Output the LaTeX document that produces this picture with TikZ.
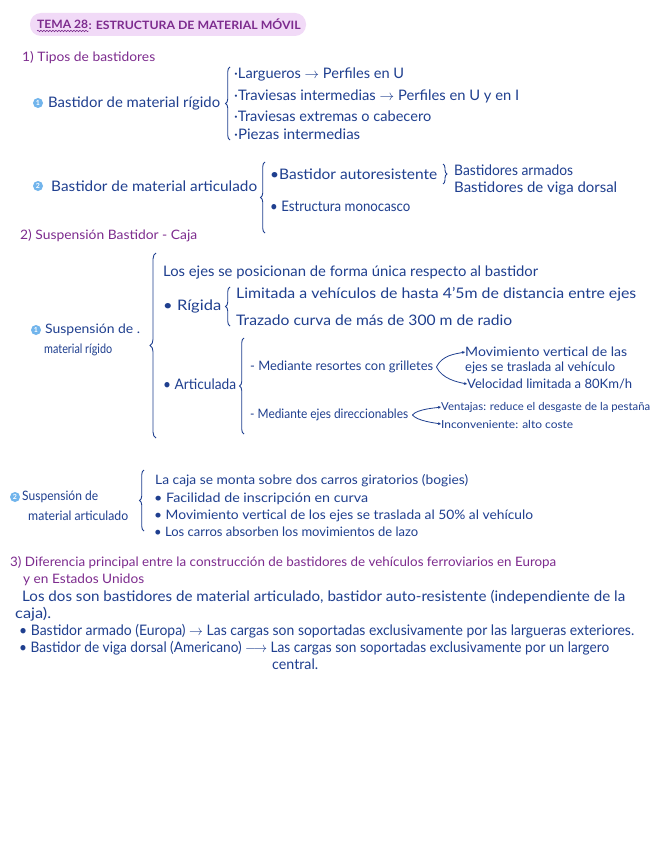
\documentclass[tikz,border=0pt]{standalone}
\usepackage{fontspec}
\usepackage{graphicx}
\setmainfont{Lato}
\usetikzlibrary{decorations.pathreplacing,decorations.pathmorphing,arrows.meta}
\definecolor{ink}{HTML}{1F3F8F}
\definecolor{plum}{HTML}{7D2B8E}
\definecolor{hl}{HTML}{F1DAF7}
\definecolor{dotc}{HTML}{72B5EC}
\newcommand{\hw}[2]{\resizebox{#1pt}{\height}{#2}}
\begin{document}
\begin{tikzpicture}[x=1pt,y=-1pt,
  txt/.style={anchor=west,inner sep=0pt,text=ink,font=\fontsize{14.5}{16}\selectfont},
  stxt/.style={txt,font=\fontsize{13}{15}\selectfont},
  xtxt/.style={txt,font=\fontsize{11}{13}\selectfont},
  head/.style={anchor=west,inner sep=0pt,text=plum,font=\fontsize{13}{15}\selectfont},
  ttl/.style={anchor=west,inner sep=0pt,text=plum,font=\fontsize{11.5}{13}\selectfont\bfseries},
  numdot/.style={circle,fill=dotc,text=white,inner sep=0pt,minimum size=10pt,font=\fontsize{7}{7}\selectfont\bfseries},
  brc/.style={draw=ink,line width=0.9pt,decorate,decoration={brace,amplitude=#1}},
  brc/.default=4.5pt,
  arr/.style={draw=ink,line width=0.8pt,-{Stealth[length=3pt,width=3pt]}}]
\fill[white] (0,0) rectangle (656,848);
\useasboundingbox (0,0) rectangle (656,848);
% title
\fill[hl,rounded corners=11pt] (30,13) rectangle (306,36);
\node[ttl] (tema) at (37,24.5) {\hw{51}{TEMA 28}};
\node[ttl,anchor=west] (ttlrest) at (tema.east) {\hw{212}{: ESTRUCTURA DE MATERIAL MÓVIL}};
\draw[plum,line width=0.6pt,decorate,decoration={snake,amplitude=0.7pt,segment length=3pt}]
  ([yshift=-2pt]tema.south west) -- ([yshift=-2pt]tema.south east);
% section 1
\node[head] (h1) at (22,58) {\hw{133}{1) Tipos de bastidores}};
\node[numdot] (n1) at (38,103) {1};
\node[txt] (bmr) at (48,103) {\hw{172}{Bastidor de material rígido}};
\draw[brc] (230,140) -- (230,67);
\node[txt] (larg) at (234,74) {\hw{170}{·Largueros $\rightarrow$ Perfiles en U}};
\node[txt] (trint) at (234,96) {\hw{285}{·Traviesas intermedias $\rightarrow$ Perfiles en U y en I}};
\node[txt] (trext) at (234,116) {\hw{197}{·Traviesas extremas o cabecero}};
\node[txt] (piez) at (234,134) {\hw{126}{·Piezas intermedias}};
\node[numdot] (n2) at (38,186) {2};
\node[txt] (bma) at (51,186) {\hw{206}{Bastidor de material articulado}};
\draw[brc] (265,233) -- (265,162);
\node[txt] (baut) at (270,174) {\hw{167}{•Bastidor autoresistente}};
\draw[brc=4pt] (443,164) -- (443,184);
\node[txt] (barm) at (454,170) {\hw{119}{Bastidores armados}};
\node[txt] (bvig) at (454,188) {\hw{163}{Bastidores de viga dorsal}};
\node[txt] (emono) at (270,206) {\hw{140}{• Estructura monocasco}};
% section 2
\node[head] (h2) at (20,236) {\hw{177}{2) Suspensión Bastidor - Caja}};
\node[numdot] (n3) at (36,330) {1};
\node[stxt] (smr1) at (45,330) {\hw{95}{Suspensión de .}};
\node[stxt] (smr2) at (44,350) {\hw{68}{material rígido}};
\draw[brc=6pt] (156,438) -- (156,253);
\node[txt] (ejes) at (163,272) {\hw{375}{Los ejes se posicionan de forma única respecto al bastidor}};
\node[txt] (rig) at (163,306) {\hw{58}{• Rígida}};
\draw[brc] (230,326) -- (230,287);
\node[txt] (lim) at (236,294) {\hw{400}{Limitada a vehículos de hasta 4'5m de distancia entre ejes}};
\node[txt] (traz) at (236,320) {\hw{276}{Trazado curva de más de 300 m de radio}};
\node[txt] (art) at (163,384) {\hw{73}{• Articulada}};
\draw[brc] (244,434) -- (244,338);
\node[stxt] (grill) at (250,367) {\hw{183}{- Mediante resortes con grilletes}};
\coordinate (sp1) at ([xshift=3pt]grill.east);
\node[stxt] (mov1) at (465,352) {\hw{162}{Movimiento vertical de las}};
\node[stxt] (mov2) at (465,368) {\hw{150}{ejes se traslada al vehículo}};
\node[stxt] (vel) at (467,384) {\hw{165}{Velocidad limitada a 80Km/h}};
\draw[arr] (sp1) .. controls +(6,-12) and +(-10,2) .. (mov1.west);
\draw[arr] (sp1) .. controls +(6,12) and +(-10,-2) .. (vel.west);
\node[stxt] (dirc) at (250,415) {\hw{158}{- Mediante ejes direccionables}};
\coordinate (sp2) at ([xshift=4pt]dirc.east);
\node[xtxt] (vent) at (441,407) {\hw{209}{Ventajas: reduce el desgaste de la pestaña}};
\node[xtxt] (inc) at (441,424) {\hw{132}{Inconveniente: alto coste}};
\draw[arr] (sp2) .. controls +(5,-6) and +(-6,1) .. (vent.west);
\draw[arr] (sp2) .. controls +(5,6) and +(-6,-1) .. (inc.west);
\node[numdot] (n4) at (15,497) {2};
\node[stxt] (sma1) at (22,497) {\hw{76}{Suspensión de}};
\node[stxt] (sma2) at (28,516) {\hw{100}{material articulado}};
\draw[brc] (144,531) -- (144,470);
\node[stxt] (caja) at (155,481) {\hw{313}{La caja se monta sobre dos carros giratorios (bogies)}};
\node[stxt] (facil) at (154,499) {\hw{214}{• Facilidad de inscripción en curva}};
\node[stxt] (movv) at (154,516) {\hw{379}{• Movimiento vertical de los ejes se traslada al 50\% al vehículo}};
\node[stxt] (lazo) at (154,532) {\hw{264}{• Los carros absorben los movimientos de lazo}};
% section 3
\node[head] (h3a) at (10,563) {\hw{546}{3) Diferencia principal entre la construcción de bastidores de vehículos ferroviarios en Europa}};
\node[head] (h3b) at (23,580) {\hw{121}{y en Estados Unidos}};
\node[txt] (dos1) at (22,597) {\hw{603}{Los dos son bastidores de material articulado, bastidor auto-resistente (independiente de la}};
\node[txt] (dos2) at (15,614) {\hw{36}{caja).}};
\node[txt] (arm) at (19,631) {\hw{615}{• Bastidor armado (Europa) $\rightarrow$ Las cargas son soportadas exclusivamente por las largueras exteriores.}};
\node[txt] (vig) at (19,648) {\hw{590}{• Bastidor de viga dorsal (Americano) $\longrightarrow$ Las cargas son soportadas exclusivamente por un largero}};
\node[txt] (cen) at (272,664) {\hw{46}{central.}};
\end{tikzpicture}
\end{document}
